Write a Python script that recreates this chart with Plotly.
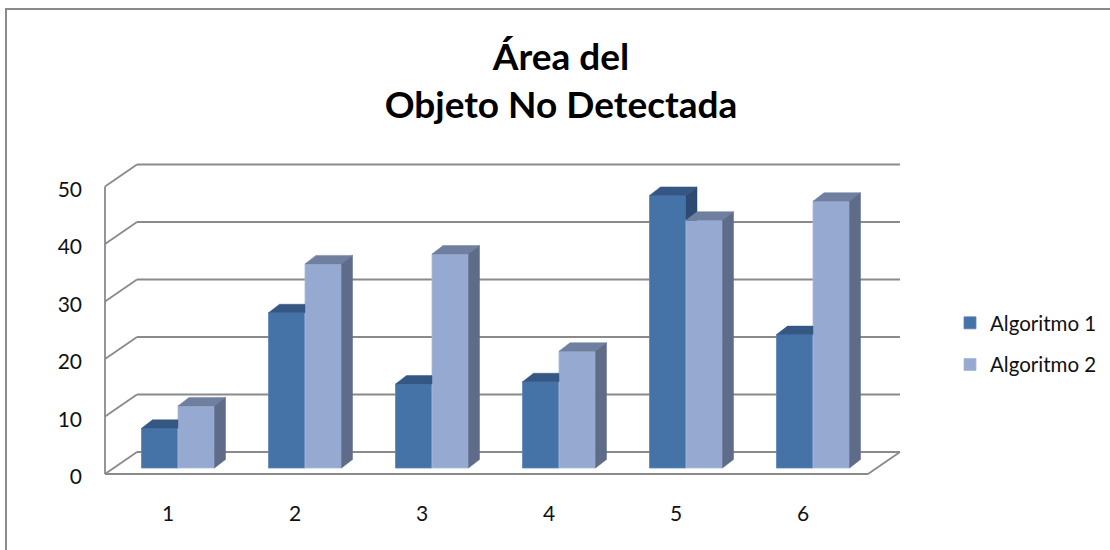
import plotly.graph_objects as go

# ---------------- data ----------------
categories = ["1", "2", "3", "4", "5", "6"]
algoritmo_1 = [6.9, 27.0, 14.6, 15.0, 47.4, 23.2]
algoritmo_2 = [10.8, 35.5, 37.2, 20.3, 43.1, 46.4]
series_names = ["Algoritmo 1", "Algoritmo 2"]
y_tick_values = [0, 10, 20, 30, 40, 50]
title_text = "Área del<br>Objeto No Detectada"

# ---------------- layout geometry (pixels) ----------------
W, H = 1110, 550
ML, MR, MT, MB = 95, 200, 140, 65          # plot area: x 95..910, y 140..485
PX_CAT = 127.0                              # pixels per category step
PX_UNIT = 5.75                              # pixels per value unit
CX0 = 178.0                                 # pixel x of category 1 centre
Y0 = 468.0                                  # pixel y of value 0 on bar front plane

def dx(px):   # pixel distance -> x data units
    return px / PX_CAT

def dy(px):   # pixel distance -> y data units
    return px / PX_UNIT

x_rng = [1 + (ML - CX0) / PX_CAT, 1 + (W - MR - CX0) / PX_CAT]
y_rng = [(Y0 - (H - MB)) / PX_UNIT, (Y0 - MT) / PX_UNIT]

BW = dx(36.5)          # width of one bar
DEP_X = dx(11.0)       # depth offset of bar top/side
DEP_Y = dy(8.5)
FRONT_X0 = 1 + (105 - CX0) / PX_CAT   # floor front-left corner
FRONT_X1 = 1 + (868 - CX0) / PX_CAT   # floor front-right corner
FRONT_Y = -dy(474 - Y0)               # front plane zero
BACK_DX = dx(32)                      # wall depth
BACK_DY = dy(22)
BACK_Y = FRONT_Y + BACK_DY

colors = {
    "a1_front": "#4572A7", "a1_top": "#355784", "a1_side": "#2D4A70",
    "a2_front": "#96A9D0", "a2_top": "#6E7FA0", "a2_side": "#5E6B89",
}
GRID = "#8A8A8A"
FONT = "Lato"

fig = go.Figure()

# front faces as real bars
pos = [i + 1 for i in range(len(categories))]
fig.add_trace(go.Bar(x=pos, y=algoritmo_1, name=series_names[0], width=BW, offset=-BW,
                     marker=dict(color=colors["a1_front"], line=dict(color="#5B86BA", width=0.8)),
                     legendgroup="a1"))
fig.add_trace(go.Bar(x=pos, y=algoritmo_2, name=series_names[1], width=BW, offset=0,
                     marker=dict(color=colors["a2_front"], line=dict(color="#A9BADB", width=0.8)),
                     legendgroup="a2"))


def poly(xs, ys, color):
    fig.add_trace(go.Scatter(x=xs + [xs[0]], y=ys + [ys[0]], mode="lines", fill="toself",
                             fillcolor=color, line=dict(color=color, width=0.5),
                             hoverinfo="skip", showlegend=False))


# 3D top and side faces derived from the data
for p, v1, v2 in zip(pos, algoritmo_1, algoritmo_2):
    xl, xm, xr = p - BW, p, p + BW
    # series 1 top
    if v2 >= v1 + DEP_Y:
        poly([xl, xm, xm, xl + DEP_X], [v1, v1, v1 + DEP_Y, v1 + DEP_Y], colors["a1_top"])
    else:
        poly([xl, xm, xm + DEP_X, xl + DEP_X], [v1, v1, v1 + DEP_Y, v1 + DEP_Y], colors["a1_top"])
    # series 1 side (only part visible above series 2)
    if v1 > v2:
        poly([xm, xm, xm + DEP_X, xm + DEP_X], [v2, v1, v1 + DEP_Y, v2], colors["a1_side"])
    # series 2 top and side
    poly([xm, xr, xr + DEP_X, xm + DEP_X], [v2, v2, v2 + DEP_Y, v2 + DEP_Y], colors["a2_top"])
    poly([xr, xr, xr + DEP_X, xr + DEP_X], [0, v2, v2 + DEP_Y, DEP_Y], colors["a2_side"])

# walls / gridlines as shapes below the traces
shapes = []
def line(x0, y0, x1, y1, color=GRID, width=1.8, xref="x", yref="y"):
    shapes.append(dict(type="line", xref=xref, yref=yref, x0=x0, y0=y0, x1=x1, y1=y1,
                       layer="below", line=dict(color=color, width=width)))

for v in y_tick_values:
    line(FRONT_X0 + BACK_DX, BACK_Y + v, FRONT_X1 + BACK_DX, BACK_Y + v)   # back wall grid
    line(FRONT_X0, FRONT_Y + v, FRONT_X0 + BACK_DX, BACK_Y + v)           # side wall diagonal
line(FRONT_X0, FRONT_Y, FRONT_X0, FRONT_Y + max(y_tick_values))           # front vertical axis
line(FRONT_X0, FRONT_Y, FRONT_X1, FRONT_Y)                                 # floor front edge
line(FRONT_X1, FRONT_Y, FRONT_X1 + BACK_DX, BACK_Y)                        # floor right edge

# chart frame (top and left edges visible in the picture)
PW, PH = W - ML - MR, H - MT - MB
def paper_x(px):
    return (px - ML) / PW
def paper_y(py):
    return (H - MB - py) / PH
line(paper_x(5), paper_y(9), paper_x(W), paper_y(9), color="#8A8A8A", width=2, xref="paper", yref="paper")
line(paper_x(6), paper_y(9), paper_x(6), paper_y(H), color="#8A8A8A", width=2, xref="paper", yref="paper")

fig.update_layout(
    width=W, height=H,
    margin=dict(l=ML, r=MR, t=MT, b=MB, autoexpand=False),
    paper_bgcolor="white", plot_bgcolor="white",
    barmode="overlay",
    shapes=shapes,
    font=dict(family=FONT, color="#111111"),
    title=dict(text=title_text, xref="container", yref="container", x=561 / W, xanchor="center",
               y=1 - 70 / H, yanchor="top",
               font=dict(family=FONT, size=37, weight="bold", color="#000000")),
    legend=dict(x=paper_x(950), xanchor="left", y=paper_y(303), yanchor="top",
                font=dict(family=FONT, size=20.5, color="#111111"),
                traceorder="grouped", tracegroupgap=12, bgcolor="rgba(0,0,0,0)"),
    xaxis=dict(range=x_rng, showgrid=False, zeroline=False, showline=False, ticks="",
               tickmode="array", tickvals=[p - dx(10) for p in pos],
               ticktext=categories, tickfont=dict(family=FONT, size=21, color="#111111"),
               ticklabelstandoff=14, fixedrange=True),
    yaxis=dict(range=y_rng, showgrid=False, zeroline=False, showline=False, ticks="",
               tickmode="array", tickvals=[FRONT_Y + v - dy(3) for v in y_tick_values],
               ticktext=[str(v) for v in y_tick_values],
               tickfont=dict(family=FONT, size=21, color="#111111"),
               ticklabelstandoff=12, fixedrange=True),
    showlegend=True,
)

fig.write_html("out.html")
